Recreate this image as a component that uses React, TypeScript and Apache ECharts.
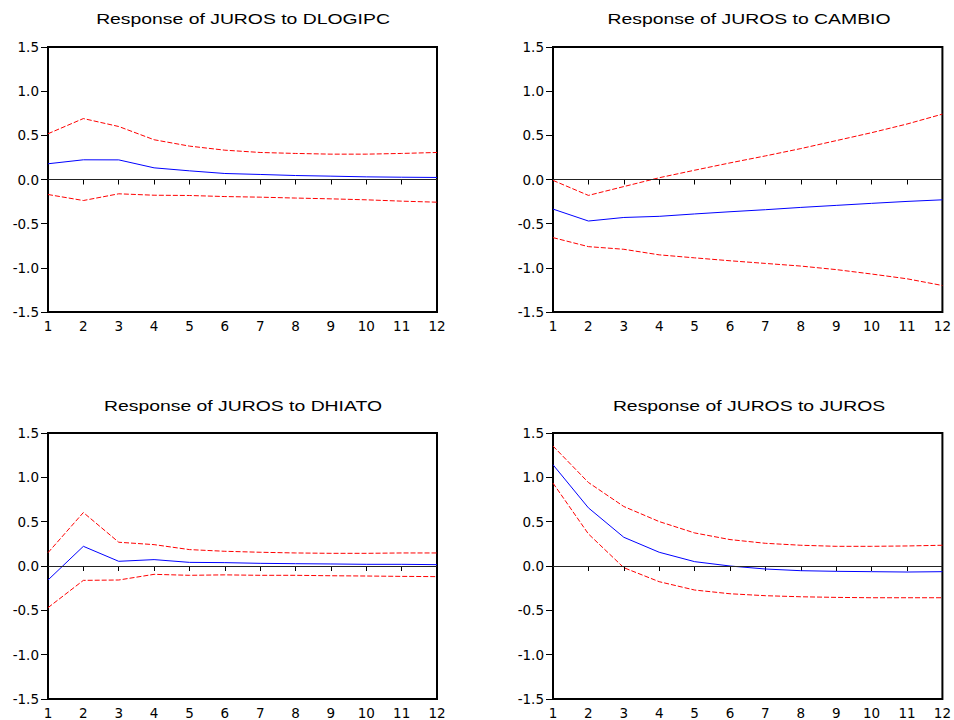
import React, { useEffect, useRef } from "react";
import * as echarts from "echarts";

const periods = ["1", "2", "3", "4", "5", "6", "7", "8", "9", "10", "11", "12"];
const yTicks = { min: -1.5, max: 1.5, step: 0.5 };

const titles = [
  "Response of JUROS to DLOGIPC",
  "Response of JUROS to CAMBIO",
  "Response of JUROS to DHIATO",
  "Response of JUROS to JUROS",
];

const dlogipcResp = [0.178, 0.223, 0.222, 0.132, 0.098, 0.068, 0.057, 0.045, 0.038, 0.03, 0.026, 0.023];
const dlogipcUpper = [0.518, 0.69, 0.6, 0.45, 0.378, 0.332, 0.306, 0.295, 0.287, 0.287, 0.295, 0.306];
const dlogipcLower = [-0.17, -0.238, -0.162, -0.178, -0.181, -0.193, -0.2, -0.21, -0.219, -0.23, -0.245, -0.257];

const cambioResp = [-0.335, -0.47, -0.43, -0.417, -0.39, -0.365, -0.342, -0.316, -0.293, -0.27, -0.248, -0.23];
const cambioUpper = [-0.01, -0.18, -0.08, 0.02, 0.105, 0.188, 0.267, 0.35, 0.44, 0.53, 0.628, 0.74];
const cambioLower = [-0.658, -0.76, -0.79, -0.853, -0.887, -0.92, -0.95, -0.98, -1.02, -1.07, -1.124, -1.2];

const dhiatoResp = [-0.158, 0.222, 0.053, 0.072, 0.041, 0.038, 0.03, 0.026, 0.023, 0.019, 0.019, 0.015];
const dhiatoUpper = [0.15, 0.603, 0.268, 0.241, 0.185, 0.166, 0.155, 0.147, 0.143, 0.143, 0.147, 0.147];
const dhiatoLower = [-0.47, -0.162, -0.158, -0.094, -0.105, -0.1, -0.105, -0.105, -0.11, -0.113, -0.117, -0.12];

const jurosResp = [1.142, 0.656, 0.324, 0.155, 0.049, 0.0, -0.034, -0.053, -0.06, -0.064, -0.068, -0.064];
const jurosUpper = [1.353, 0.942, 0.671, 0.501, 0.373, 0.298, 0.256, 0.234, 0.222, 0.222, 0.226, 0.234];
const jurosLower = [0.935, 0.362, -0.019, -0.177, -0.271, -0.313, -0.335, -0.347, -0.354, -0.358, -0.358, -0.358];

const panels = [
  { resp: dlogipcResp, upper: dlogipcUpper, lower: dlogipcLower },
  { resp: cambioResp, upper: cambioUpper, lower: cambioLower },
  { resp: dhiatoResp, upper: dhiatoUpper, lower: dhiatoLower },
  { resp: jurosResp, upper: jurosUpper, lower: jurosLower },
];

const gridBoxes = [
  { left: 48, top: 47, width: 389, height: 265 },
  { left: 553, top: 47, width: 390, height: 265 },
  { left: 48, top: 433, width: 389, height: 266 },
  { left: 553, top: 433, width: 390, height: 266 },
];

const titlePos = [
  { x: 243, y: 19 },
  { x: 749, y: 19 },
  { x: 243, y: 406 },
  { x: 749, y: 406 },
];

const labelFont = "DejaVu Sans";

export default function App() {
  const ref = useRef<HTMLDivElement>(null);

  useEffect(() => {
    if (!ref.current) return;
    const chart = echarts.init(ref.current, undefined, { renderer: "svg" });

    const grid = gridBoxes.map((g) => ({
      ...g,
      show: true,
      borderColor: "#000",
      borderWidth: 2,
      backgroundColor: "#fff",
      containLabel: false,
    }));

    const xAxis = gridBoxes.map((_, i) => ({
      type: "category",
      gridIndex: i,
      data: periods,
      boundaryGap: false,
      axisLine: { show: false },
      axisTick: { show: true, length: 5, interval: 0, lineStyle: { color: "#000", width: 1 } },
      axisLabel: {
        interval: 0,
        color: "#000",
        fontFamily: labelFont,
        fontSize: 13.5,
        margin: 7,
      },
      splitLine: { show: false },
    }));

    const yAxis = gridBoxes.map((_, i) => ({
      type: "value",
      gridIndex: i,
      min: yTicks.min,
      max: yTicks.max,
      interval: yTicks.step,
      axisLine: { show: false },
      axisTick: { show: true, length: 7, lineStyle: { color: "#000", width: 1 } },
      axisLabel: {
        color: "#000",
        fontFamily: labelFont,
        fontSize: 13.5,
        margin: 9,
        padding: [0, 0, 4, 0],
        formatter: (v: number) => v.toFixed(1),
      },
      splitLine: { show: false },
    }));

    const series: any[] = [];
    panels.forEach((p, i) => {
      series.push({
        type: "line",
        xAxisIndex: i,
        yAxisIndex: i,
        data: p.upper,
        symbol: "none",
        lineStyle: { color: "#FF0000", width: 1, type: [5, 2] },
        z: 3,
      });
      series.push({
        type: "line",
        xAxisIndex: i,
        yAxisIndex: i,
        data: p.lower,
        symbol: "none",
        lineStyle: { color: "#FF0000", width: 1, type: [5, 2] },
        z: 3,
      });
      series.push({
        type: "line",
        xAxisIndex: i,
        yAxisIndex: i,
        data: p.resp,
        symbol: "none",
        lineStyle: { color: "#0000FF", width: 1 },
        z: 4,
        markLine: {
          silent: true,
          symbol: "none",
          label: { show: false },
          lineStyle: { color: "#222", width: 1, type: "solid" },
          data: [{ yAxis: 0 }],
        },
      });
    });

    const graphic = titles.map((t, i) => ({
      type: "text",
      x: titlePos[i].x,
      y: titlePos[i].y,
      scaleX: 1.25,
      style: {
        text: t,
        fill: "#000",
        font: "15.5px 'Liberation Sans', Arial, sans-serif",
        textAlign: "center",
        textVerticalAlign: "middle",
        align: "center",
        verticalAlign: "middle",
      },
    }));

    chart.setOption({
      animation: false,
      backgroundColor: "#fff",
      grid,
      xAxis,
      yAxis,
      series,
      graphic,
    });

    return () => chart.dispose();
  }, []);

  return (
    <div
      ref={ref}
      style={{ position: "fixed", left: 0, top: 0, width: 954, height: 720, background: "#fff" }}
    />
  );
}
